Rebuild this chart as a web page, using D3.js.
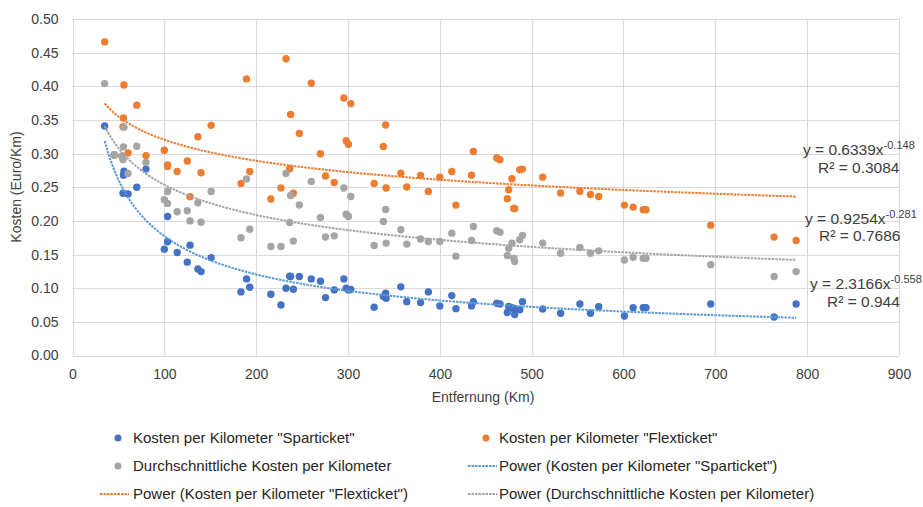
<!DOCTYPE html>
<html>
<head>
<meta charset="utf-8">
<script src="https://cdn.jsdelivr.net/npm/d3@7/dist/d3.min.js"></script>
<style>
  html, body { margin: 0; padding: 0; background: #fff; }
  svg { display: block; }
  text { font-family: "Liberation Sans", Arial, sans-serif; }
</style>
</head>
<body>
<svg id="chart" width="923" height="507"></svg>
<script>
// Distance of each connection (km)
const distanceKm = [
  35, 45.5, 55, 54, 55.5, 56, 60.5, 70, 80,
  100, 103.5, 103.5, 114, 125, 128, 136.5, 140, 151,
  183.5, 189.5, 193, 216, 227, 232.5, 236.5, 237.5, 240.5, 247, 260,
  270, 275.5, 285, 295.5, 298, 300.5, 303, 328.5, 338.5, 341, 341.5,
  357.5, 364, 379, 387.5, 400, 413, 417.5, 434.5, 436.5, 462, 465.5,
  473.5, 475, 478.5, 480.5, 481.5, 487, 490, 512, 531.5, 552.5, 564, 573,
  601, 610.5, 621.5, 624.5, 695, 764, 788
];
// Cost per km, saver fare ("Sparticket")
const costSpar = [
  0.341, 0.298, 0.241, 0.296, 0.268, 0.274, 0.240, 0.250, 0.277,
  0.158, 0.2065, 0.169, 0.153, 0.1387, 0.164, 0.1287, 0.1247, 0.1455,
  0.0945, 0.1138, 0.1015, 0.091, 0.075, 0.100, 0.1177, 0.1173, 0.0985, 0.1173, 0.1138,
  0.1104, 0.086, 0.0975, 0.1138, 0.100, 0.0975, 0.098, 0.0717, 0.0875, 0.0926, 0.085,
  0.102, 0.080, 0.0786, 0.0945, 0.0737, 0.089, 0.0696, 0.0737, 0.080, 0.0777, 0.0766,
  0.064, 0.073, 0.071, 0.070, 0.061, 0.068, 0.080, 0.069, 0.0628, 0.0766, 0.0628, 0.0726,
  0.0588, 0.0711, 0.0711, 0.0711, 0.0766, 0.0573, 0.0766
];
// Cost per km, flexible fare ("Flexticket")
const costFlex = [
  0.466, 0.298, 0.340, 0.296, 0.353, 0.402, 0.301, 0.372, 0.297,
  0.305, 0.281, 0.283, 0.2735, 0.289, 0.236, 0.325, 0.2716, 0.342,
  0.2557, 0.411, 0.2735, 0.2325, 0.249, 0.441, 0.2775, 0.358, 0.241, 0.330, 0.4045,
  0.2998, 0.2667, 0.257, 0.3827, 0.319, 0.314, 0.3743, 0.2557, 0.3107, 0.3426, 0.2488,
  0.271, 0.2503, 0.2676, 0.2438, 0.265, 0.2735, 0.2235, 0.268, 0.3033, 0.2934, 0.291,
  0.233, 0.2463, 0.2627, 0.2185, 0.2185, 0.276, 0.277, 0.265, 0.2414, 0.2438, 0.2393, 0.2363,
  0.2235, 0.2205, 0.2165, 0.2165, 0.1937, 0.1759, 0.1708
];
// Average cost per km of both fares
const costAvg = [
  0.404, 0.298, 0.291, 0.296, 0.310, 0.339, 0.2705, 0.311, 0.287,
  0.2315, 0.2437, 0.226, 0.2135, 0.215, 0.200, 0.2268, 0.198, 0.2437,
  0.175, 0.2624, 0.1875, 0.162, 0.162, 0.2705, 0.1976, 0.2377, 0.170, 0.2237, 0.2587,
  0.2051, 0.176, 0.1778, 0.2488, 0.210, 0.2065, 0.2363, 0.1634, 0.199, 0.217, 0.167,
  0.1868, 0.1655, 0.173, 0.1693, 0.1693, 0.1818, 0.1476, 0.1708, 0.1917, 0.1853, 0.1833,
  0.1485, 0.1595, 0.167, 0.1446, 0.1396, 0.172, 0.1785, 0.167, 0.152, 0.1604, 0.152, 0.1555,
  0.142, 0.146, 0.1446, 0.1446, 0.135, 0.1173, 0.1247
];

// Power trend lines y = a * x^b with their fit quality
const trendNames = ["Sparticket", "Flexticket", "Durchschnitt"];
const trendA = [2.3166, 0.6339, 0.9254];
const trendB = [-0.558, -0.148, -0.281];
const trendR2 = ["0.944", "0.3084", "0.7686"];

const xTicks = [0, 100, 200, 300, 400, 500, 600, 700, 800, 900];
const yTicks = [0, 0.05, 0.10, 0.15, 0.20, 0.25, 0.30, 0.35, 0.40, 0.45, 0.50];

const colors = { spar: "#4472C4", flex: "#ED7D31", avg: "#A5A5A5", sparTrend: "#5B9BD5" };

const svg = d3.select("#chart");
const x = d3.scaleLinear().domain([0, 900]).range([72.5, 899]);
const y = d3.scaleLinear().domain([0, 0.5]).range([355.5, 19]);

// Gridlines
const grid = svg.append("g").attr("stroke", "#D9D9D9").attr("stroke-width", 1);
grid.selectAll("line.h").data(yTicks).join("line")
  .attr("x1", x(0)).attr("x2", x(900))
  .attr("y1", d => Math.round(y(d)) + 0.5).attr("y2", d => Math.round(y(d)) + 0.5);
grid.selectAll("line.v").data(xTicks).join("line")
  .attr("y1", y(0.5)).attr("y2", y(0))
  .attr("x1", d => Math.round(x(d)) + 0.5).attr("x2", d => Math.round(x(d)) + 0.5);

// Axes (labels only, lines hidden)
const xAxis = d3.axisBottom(x).tickValues(xTicks).tickSize(0).tickPadding(14).tickFormat(d3.format("d"));
const yAxis = d3.axisLeft(y).tickValues(yTicks).tickSize(0).tickPadding(14).tickFormat(d3.format(".2f"));
const gx = svg.append("g").attr("transform", `translate(0,${y(0)})`).call(xAxis);
const gy = svg.append("g").attr("transform", `translate(${x(0)},0)`).call(yAxis);
[gx, gy].forEach(g => {
  g.select(".domain").remove();
  g.selectAll("text").attr("fill", "#404040").style("font-size", "14px")
    .style("font-family", '"Liberation Sans", Arial, sans-serif');
});

// Axis titles
svg.append("text").attr("x", 483).attr("y", 402).attr("text-anchor", "middle")
  .attr("fill", "#404040").style("font-size", "14px").text("Entfernung (Km)");
svg.append("text").attr("transform", "translate(21,187) rotate(-90)").attr("text-anchor", "middle")
  .attr("fill", "#404040").style("font-size", "14px").text("Kosten (Euro/Km)");

// Scatter points
const idx = d3.range(distanceKm.length);
function drawPoints(values, color) {
  svg.append("g").selectAll("circle").data(idx).join("circle")
    .attr("cx", i => x(distanceKm[i])).attr("cy", i => y(values[i]))
    .attr("r", 3.7).attr("fill", color);
}
drawPoints(costSpar, colors.spar);
drawPoints(costFlex, colors.flex);
drawPoints(costAvg, colors.avg);

// Power trend lines across the distance range
const xMin = d3.min(distanceKm), xMax = d3.max(distanceKm);
const trendX = d3.range(xMin, xMax, 2).concat([xMax]);
const trendColors = [colors.sparTrend, colors.flex, colors.avg];
const line = d3.line().x(d => x(d[0])).y(d => y(d[1]));
trendA.forEach((a, k) => {
  svg.append("path")
    .datum(trendX.map(v => [v, a * Math.pow(v, trendB[k])]))
    .attr("d", line).attr("fill", "none")
    .attr("stroke", trendColors[k]).attr("stroke-width", 2)
    .attr("stroke-dasharray", "2.5 1");
});

// Trend equations
const eqPos = [
  { x: 810, y: 289, rx: 827, ry: 307 },
  { x: 803, y: 155, rx: 818, ry: 173 },
  { x: 805, y: 224, rx: 819, ry: 241 }
];
trendA.forEach((a, k) => {
  const p = eqPos[k];
  const t = svg.append("text").attr("x", p.x).attr("y", p.y)
    .attr("fill", "#404040").style("font-size", "15.5px");
  t.append("tspan").text(`y = ${a.toFixed(4)}x`);
  t.append("tspan").attr("dy", -6).style("font-size", "11px").text(trendB[k].toString());
  svg.append("text").attr("x", p.rx).attr("y", p.ry)
    .attr("fill", "#404040").style("font-size", "15.5px").text(`R² = ${trendR2[k]}`);
});

// Legend
const legendItems = [
  { type: "dot", color: colors.spar, label: 'Kosten per Kilometer "Sparticket"', x: 118, tx: 133, y: 438 },
  { type: "dot", color: colors.flex, label: 'Kosten per Kilometer "Flexticket"', x: 486, tx: 499, y: 438 },
  { type: "dot", color: colors.avg, label: "Durchschnittliche Kosten per Kilometer", x: 118, tx: 133, y: 466 },
  { type: "line", color: colors.sparTrend, label: 'Power (Kosten per Kilometer "Sparticket")', x: 483, tx: 499, y: 466 },
  { type: "line", color: colors.flex, label: 'Power (Kosten per Kilometer "Flexticket")', x: 115, tx: 133, y: 494 },
  { type: "line", color: colors.avg, label: "Power (Durchschnittliche Kosten per Kilometer)", x: 483, tx: 499, y: 494 }
];
const lg = svg.append("g").selectAll("g").data(legendItems).join("g");
lg.filter(d => d.type === "dot").append("circle")
  .attr("cx", d => d.x).attr("cy", d => d.y).attr("r", 3.5).attr("fill", d => d.color);
lg.filter(d => d.type === "line").append("line")
  .attr("x1", d => d.x - 15).attr("x2", d => d.x + 14)
  .attr("y1", d => d.y).attr("y2", d => d.y)
  .attr("stroke", d => d.color).attr("stroke-width", 2).attr("stroke-dasharray", "2.5 1");
lg.append("text").attr("x", d => d.tx).attr("y", d => d.y + 5)
  .attr("fill", "#262626").style("font-size", "15px").text(d => d.label);
</script>
</body>
</html>
